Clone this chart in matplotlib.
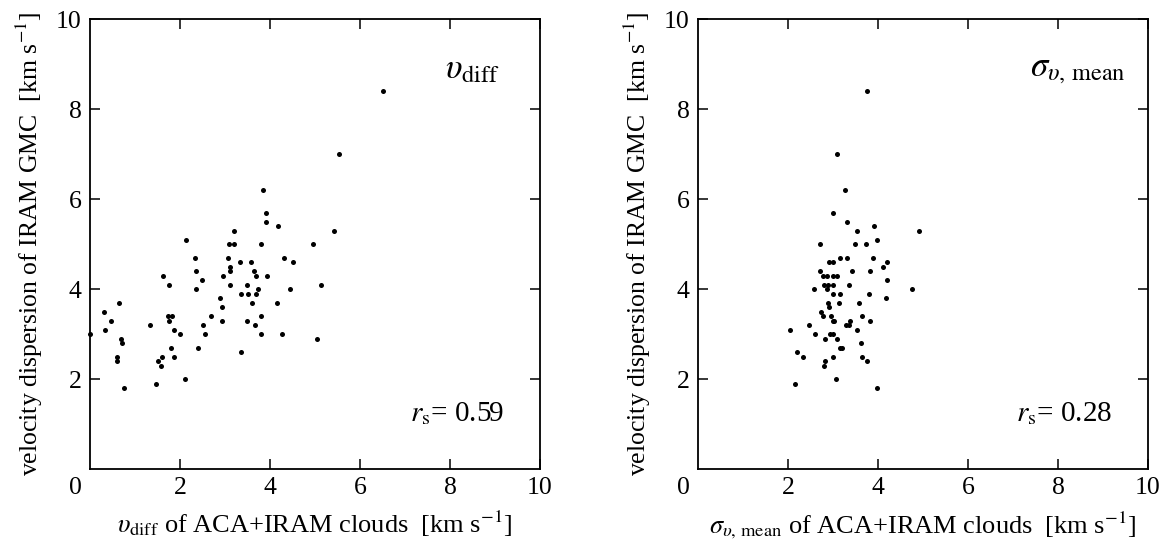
import matplotlib
matplotlib.use('Agg')
import matplotlib.pyplot as plt

plt.rcParams['font.family'] = ['Liberation Serif', 'DejaVu Serif']
plt.rcParams['mathtext.fontset'] = 'stix'

# левая панель: v_diff облаков ACA+IRAM против дисперсии скоростей IRAM GMC
vdiff_x = [0.0, 0.32, 0.46, 0.33, 0.65, 0.68, 0.72, 0.59, 0.61, 0.76,
           1.33, 1.62, 1.76, 1.74, 1.83, 1.75, 1.87, 2.01, 1.81, 1.87,
           1.61, 1.50, 1.57, 1.47, 2.11, 2.13, 2.34, 2.35, 2.49, 2.35,
           2.69, 2.52, 2.55, 2.39, 2.88, 2.94, 2.94, 3.07, 3.09, 3.20,
           3.19, 3.12, 3.10, 2.96, 3.12, 3.33, 3.36, 3.48, 3.50, 3.48,
           3.36, 3.57, 3.64, 3.68, 3.74, 3.69, 3.61, 3.66, 3.81, 3.80,
           3.79, 3.84, 3.90, 3.92, 3.93, 4.18, 4.15, 6.51, 5.53, 5.43,
           4.96, 4.30, 4.50, 5.13, 4.45, 4.27, 5.04]
vdiff_y = [3.0, 3.5, 3.3, 3.1, 3.7, 2.9, 2.8, 2.5, 2.4, 1.8,
           3.2, 4.3, 4.1, 3.4, 3.4, 3.3, 3.1, 3.0, 2.7, 2.5,
           2.5, 2.4, 2.3, 1.9, 2.0, 5.1, 4.7, 4.4, 4.2, 4.0,
           3.4, 3.2, 3.0, 2.7, 3.8, 3.6, 3.3, 4.7, 5.0, 5.0,
           5.3, 4.5, 4.4, 4.3, 4.1, 4.6, 3.9, 4.1, 3.9, 3.3,
           2.6, 4.6, 4.4, 4.3, 4.0, 3.9, 3.7, 3.2, 3.4, 3.0,
           5.0, 6.2, 5.7, 5.5, 4.3, 5.4, 3.7, 8.4, 7.0, 5.3,
           5.0, 4.7, 4.6, 4.1, 4.0, 3.0, 2.9]

# правая панель: sigma_v,mean
sig_x = [3.75, 3.09, 3.27, 2.99, 3.30, 3.53, 3.90, 4.90, 3.98, 2.70,
         3.48, 3.74, 3.15, 3.30, 3.88, 2.92, 3.01, 4.21, 4.10, 2.70,
         3.42, 3.82, 2.78, 2.87, 2.99, 3.08, 4.21, 2.81, 2.89, 2.99,
         3.36, 2.58, 2.87, 4.76, 2.99, 3.16, 3.79, 4.17, 2.89, 3.13,
         3.57, 2.91, 2.74, 2.78, 2.96, 3.64, 2.99, 3.03, 3.38, 3.82,
         2.47, 3.29, 3.35, 2.05, 3.53, 2.60, 2.93, 3.00, 2.83, 3.08,
         3.63, 3.15, 3.21, 2.19, 2.34, 2.99, 3.64, 2.83, 3.76, 2.79,
         3.07, 2.16, 3.97]
sig_y = [8.4, 7.0, 6.2, 5.7, 5.5, 5.3, 5.4, 5.3, 5.1, 5.0,
         5.0, 5.0, 4.7, 4.7, 4.7, 4.6, 4.6, 4.6, 4.5, 4.4,
         4.4, 4.4, 4.3, 4.3, 4.3, 4.3, 4.2, 4.1, 4.1, 4.1,
         4.1, 4.0, 4.0, 4.0, 3.9, 3.9, 3.9, 3.8, 3.7, 3.7,
         3.7, 3.6, 3.5, 3.4, 3.4, 3.4, 3.3, 3.3, 3.3, 3.3,
         3.2, 3.2, 3.2, 3.1, 3.1, 3.0, 3.0, 3.0, 2.9, 2.9,
         2.8, 2.7, 2.7, 2.6, 2.5, 2.5, 2.5, 2.4, 2.4, 2.3,
         2.0, 1.9, 1.8]

ticks = [2, 4, 6, 8, 10]
ylab = 'velocity dispersion of IRAM GMC  [km s$^{-1}$]'
panels = [
    (vdiff_x, vdiff_y, r'$\upsilon_{\mathrm{diff}}$ of ACA+IRAM clouds  [km s$^{-1}$]',
     r'$\upsilon_{\mathrm{diff}}$', 9.1, r'$r_{\mathrm{s}}$= 0.59'),
    (sig_x, sig_y, r'$\sigma_{\upsilon,\,\mathrm{mean}}$ of ACA+IRAM clouds  [km s$^{-1}$]',
     r'$\sigma_{\upsilon,\,\mathrm{mean}}$', 9.5, r'$r_{\mathrm{s}}$= 0.28'),
]

fig = plt.figure(figsize=(11.7, 5.47), dpi=100)
lefts = [90 / 1170, 698 / 1170]

for (xs, ys, xlab, tag, tag_x, rs), left in zip(panels, lefts):
    ax = fig.add_axes([left, 78 / 547, 450 / 1170, 450 / 547])
    ax.scatter(xs, ys, s=13, c='black', linewidths=0, clip_on=False, zorder=3)
    ax.set_xlim(0, 10)
    ax.set_ylim(0, 10)
    ax.set_xticks(ticks)
    ax.set_yticks(ticks)
    ax.tick_params(direction='in', top=True, right=True, length=7, width=1.1,
                   labelsize=18.5, pad=6)
    for sp in ax.spines.values():
        sp.set_linewidth(1.3)
    ax.text(-0.33, -0.42, '0', fontsize=18.5, ha='center', va='center')
    ax.set_xlabel(xlab, fontsize=19, labelpad=7)
    ax.set_ylabel(ylab, fontsize=18.5, labelpad=8)
    ax.text(tag_x, 8.87, tag, fontsize=25, ha='right', va='center')
    ax.text(9.2, 1.24, rs, fontsize=21, ha='right', va='center')

fig.savefig('out.png', dpi=100)
